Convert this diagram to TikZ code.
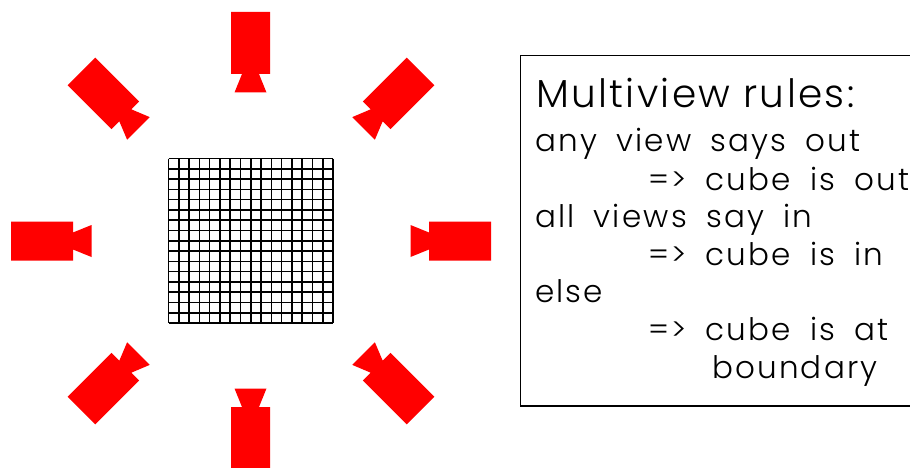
\documentclass[tikz,border=0pt]{standalone}
\usepackage{fontspec}
\newfontfamily\headfont[UprightFont={* Light},LetterSpace=6]{Poppins}
\newfontfamily\rulefont[UprightFont={* Light},LetterSpace=7,WordSpace=1.8]{Poppins}
\usetikzlibrary{positioning}
\definecolor{CamRed}{HTML}{FF0000}
\definecolor{RuleInk}{HTML}{000000}
\tikzset{
  cambody/.style={fill=CamRed,draw=none},
  voxel/.style={RuleInk,line width=1.6pt},
  panel/.style={draw=RuleInk,line width=1.2pt},
  ruletext/.style={text=RuleInk,anchor=base west,inner sep=0pt,font=\rulefont\fontsize{31}{31}\selectfont},
  rulehead/.style={ruletext,font=\headfont\fontsize{39}{39}\selectfont},
}
\newcommand{\camicon}[3]{%
  \begin{scope}[shift={(#1,#2)},rotate=#3]
    \path[cambody] (-19.5,0) -- (19.5,0) -- (19.5,62) -- (8.5,62) -- (16,80.5)
      -- (-16,80.5) -- (-8.5,62) -- (-19.5,62) -- cycle;
  \end{scope}%
}
\begin{document}
\begin{tikzpicture}[x=1pt,y=-1pt]
    \useasboundingbox (0,0) rectangle (910,468);
    \clip (0,0) rectangle (910,468);
    % eight views round the cube
    \camicon{250.5}{12}{0}
    \camicon{420.5}{71.5}{-45}
    \camicon{491}{241}{-90}
    \camicon{420.5}{410.5}{-135}
    \camicon{250.5}{469}{180}
    \camicon{81.5}{410.5}{135}
    \camicon{11}{241}{90}
    \camicon{81.5}{71.5}{45}

    % voxel grid
    \foreach \i in {0,...,16} {
      \draw[voxel] ({168.5+\i*10.28},158.5) -- ({168.5+\i*10.28},323);
      \draw[voxel] (168.5,{158.5+\i*10.28}) -- (333,{158.5+\i*10.28});
    }

    % the rules, box runs off the right edge
    \draw[panel] (920,55.5) -- (520.5,55.5) -- (520.5,406) -- (920,406);
    \node[rulehead] (head) at (536,108) {Multiview rules:};
    \node[ruletext] (anyview) at (535,152) {any view says out};
    \node[ruletext] (cubeout) at (648,190) {=> cube is out};
    \node[ruletext] (allviews) at (535,227) {all views say in};
    \node[ruletext] (cubein) at (648,265) {=> cube is in};
    \node[ruletext] (else) at (535,302) {else};
    \node[ruletext] (cubeat) at (648,340) {=> cube is at};
    \node[ruletext] (boundary) at (712,378) {boundary};
\end{tikzpicture}
\end{document}
